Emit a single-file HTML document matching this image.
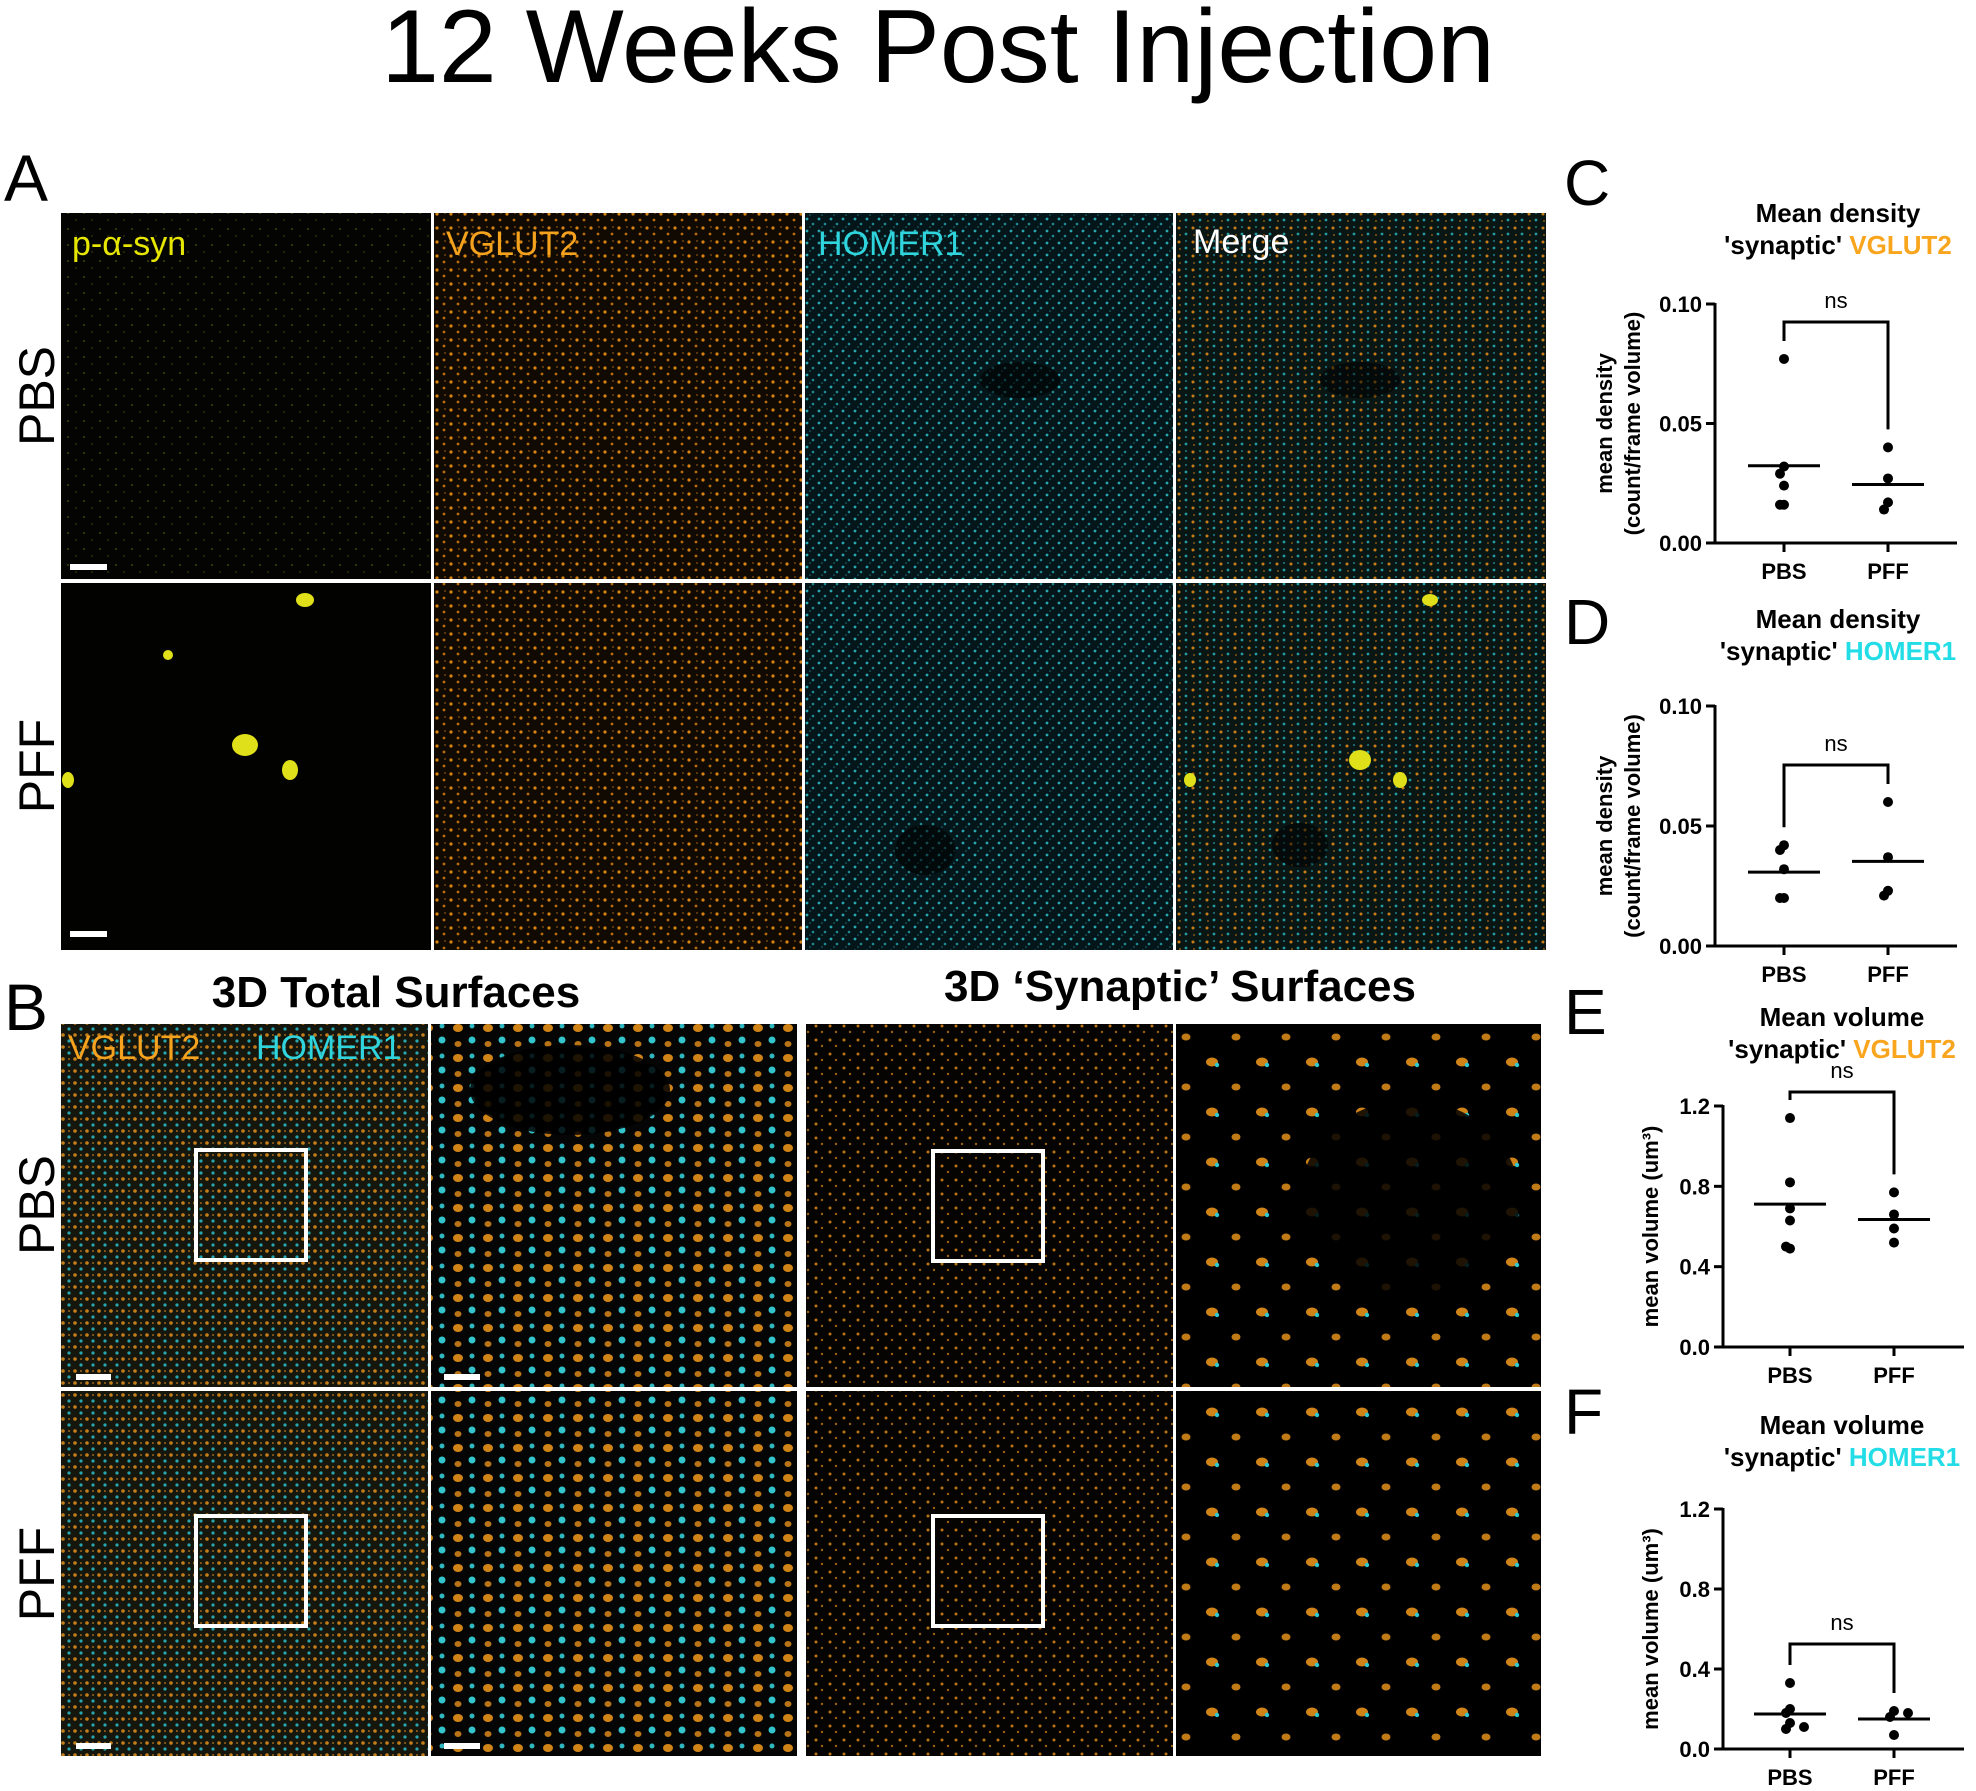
<!DOCTYPE html>
<html><head><meta charset="utf-8">
<style>
html,body{margin:0;padding:0;background:#fff;}
svg{display:block;font-family:"Liberation Sans",Arial,sans-serif;}
</style></head>
<body>
<svg id="fig" width="1976" height="1791" viewBox="0 0 1976 1791" xmlns="http://www.w3.org/2000/svg">
<defs>
  <pattern id="pOr" width="14" height="14" patternUnits="userSpaceOnUse"><rect width="14" height="14" fill="#100a02"/><circle cx="3" cy="4" r="1.6" fill="#d88412"/><circle cx="10" cy="10" r="1.4" fill="#b86e0e"/><circle cx="11" cy="3" r="0.9" fill="#8a540c"/></pattern>
  <pattern id="pCy" width="12" height="12" patternUnits="userSpaceOnUse"><rect width="12" height="12" fill="#05161a"/><circle cx="3" cy="3" r="1.4" fill="#2aa8b0"/><circle cx="9" cy="8" r="1.3" fill="#208a92"/><circle cx="6" cy="11" r="0.8" fill="#1a7078"/></pattern>
  <pattern id="pMg" width="14" height="14" patternUnits="userSpaceOnUse"><rect width="14" height="14" fill="#0a1614"/><circle cx="3" cy="4" r="1.5" fill="#c87e16"/><circle cx="10" cy="10" r="1.4" fill="#249aa2"/><circle cx="10" cy="3" r="1" fill="#1c7e86"/><circle cx="4" cy="11" r="0.9" fill="#a86812"/></pattern>
  <pattern id="pYe" width="16" height="16" patternUnits="userSpaceOnUse"><rect width="16" height="16" fill="#040402"/><circle cx="4" cy="5" r="0.8" fill="#6a6a0c"/><circle cx="12" cy="12" r="0.7" fill="#50500a"/></pattern>
  <pattern id="pTot" width="12" height="12" patternUnits="userSpaceOnUse"><rect width="12" height="12" fill="#15170f"/><circle cx="3" cy="3" r="1.8" fill="#c47e1a"/><circle cx="9" cy="9" r="1.6" fill="#28a6ae"/><circle cx="9" cy="3" r="1" fill="#9c6416"/></pattern>
  <pattern id="pZoom" width="30" height="30" patternUnits="userSpaceOnUse"><rect width="30" height="30" fill="#050505"/><ellipse cx="8" cy="8" rx="5" ry="4" fill="#d08418"/><circle cx="22" cy="20" r="3.5" fill="#34c4cc"/><circle cx="22" cy="6" r="2.5" fill="#30b8c0"/><ellipse cx="8" cy="24" rx="3.5" ry="3" fill="#b87416"/></pattern>
  <pattern id="pSyn" width="14" height="14" patternUnits="userSpaceOnUse"><rect width="14" height="14" fill="#060402"/><circle cx="4" cy="4" r="1.5" fill="#b87416"/><circle cx="10" cy="10" r="1.2" fill="#9a6212"/></pattern>
  <pattern id="pSynZ" width="50" height="50" patternUnits="userSpaceOnUse"><rect width="50" height="50" fill="#000"/><ellipse cx="12" cy="12" rx="6" ry="4.5" fill="#d08418"/><circle cx="17" cy="15" r="2.2" fill="#30c8d0"/><ellipse cx="36" cy="37" rx="4.5" ry="3.5" fill="#c07a16"/></pattern>
</defs>

<text x="938" y="82" font-size="104" text-anchor="middle">12 Weeks Post Injection</text>

<!-- Panel A -->
<text x="4" y="201" font-size="66">A</text>
<g>
  <rect x="61" y="213" width="370" height="366" fill="url(#pYe)"/>
  <rect x="434" y="213" width="368" height="366" fill="url(#pOr)"/>
  <rect x="805" y="213" width="368" height="366" fill="url(#pCy)"/>
  <rect x="1176" y="213" width="370" height="366" fill="url(#pMg)"/>
  <rect x="61" y="583" width="370" height="367" fill="#020200"/>
  <g fill="#e0e01a">
    <ellipse cx="245" cy="745" rx="13" ry="11"/><ellipse cx="290" cy="770" rx="8" ry="10"/><ellipse cx="305" cy="600" rx="9" ry="7"/><ellipse cx="168" cy="655" rx="5" ry="5"/><ellipse cx="68" cy="780" rx="6" ry="8"/>
  </g>
  <rect x="434" y="583" width="368" height="367" fill="url(#pOr)"/>
  <rect x="805" y="583" width="368" height="367" fill="url(#pCy)"/>
  <rect x="1176" y="583" width="370" height="367" fill="url(#pMg)"/>
  <g fill="#e0e01a"><ellipse cx="1360" cy="760" rx="11" ry="10"/><ellipse cx="1400" cy="780" rx="7" ry="8"/><ellipse cx="1190" cy="780" rx="6" ry="7"/><ellipse cx="1430" cy="600" rx="8" ry="6"/></g>
  <g fill="#000" opacity="0.55"><ellipse cx="1020" cy="380" rx="40" ry="18"/><ellipse cx="1360" cy="380" rx="40" ry="18"/><ellipse cx="925" cy="850" rx="30" ry="25"/><ellipse cx="1300" cy="845" rx="28" ry="22"/></g>
  <rect x="70" y="564" width="37" height="6" fill="#fff"/>
  <rect x="70" y="931" width="37" height="6" fill="#fff"/>
</g>
<text x="72" y="255" font-size="34" fill="#e6e600">p-α-syn</text>
<text x="446" y="255" font-size="34" fill="#f5a21e">VGLUT2</text>
<text x="818" y="255" font-size="34" fill="#2fd4dc">HOMER1</text>
<text x="1193" y="253" font-size="34" fill="#fff">Merge</text>
<text transform="translate(54,396) rotate(-90)" font-size="50" text-anchor="middle">PBS</text>
<text transform="translate(54,766) rotate(-90)" font-size="50" text-anchor="middle">PFF</text>

<!-- Panel B -->
<text x="4" y="1030" font-size="66">B</text>
<text x="396" y="1007" font-size="44" font-weight="bold" text-anchor="middle">3D Total Surfaces</text>
<text x="1180" y="1001" font-size="44" font-weight="bold" text-anchor="middle">3D ‘Synaptic’ Surfaces</text>
<g>
  <rect x="61" y="1024" width="367" height="363" fill="url(#pTot)"/>
  <rect x="431" y="1024" width="366" height="363" fill="url(#pZoom)"/>
  <rect x="806" y="1024" width="367" height="363" fill="url(#pSyn)"/>
  <rect x="1176" y="1024" width="365" height="363" fill="url(#pSynZ)"/>
  <rect x="61" y="1391" width="367" height="365" fill="url(#pTot)"/>
  <rect x="431" y="1391" width="366" height="365" fill="url(#pZoom)"/>
  <rect x="806" y="1391" width="367" height="365" fill="url(#pSyn)"/>
  <rect x="1176" y="1391" width="365" height="365" fill="url(#pSynZ)"/>
  <g fill="#000" opacity="0.85"><ellipse cx="570" cy="1090" rx="100" ry="45"/><ellipse cx="1410" cy="1200" rx="110" ry="100"/></g>
  <g fill="none" stroke="#fff" stroke-width="4">
    <rect x="196" y="1150" width="110" height="110"/>
    <rect x="933" y="1151" width="110" height="110"/>
    <rect x="196" y="1516" width="110" height="110"/>
    <rect x="933" y="1516" width="110" height="110"/>
  </g>
  <g fill="#fff"><rect x="76" y="1374" width="35" height="6"/><rect x="444" y="1374" width="36" height="6"/><rect x="76" y="1743" width="35" height="6"/><rect x="444" y="1743" width="36" height="6"/></g>
</g>
<text x="68" y="1059" font-size="34" fill="#f5a21e">VGLUT2</text>
<text x="256" y="1059" font-size="34" fill="#2fd4dc">HOMER1</text>
<text transform="translate(54,1205) rotate(-90)" font-size="50" text-anchor="middle">PBS</text>
<text transform="translate(54,1574) rotate(-90)" font-size="50" text-anchor="middle">PFF</text>

<text x="1564" y="205" font-size="64">C</text>
<text x="1564" y="644" font-size="64">D</text>
<text x="1564" y="1034" font-size="64">E</text>
<text x="1564" y="1434" font-size="64">F</text>
<g id="charts"></g>
</svg>
<script>
const groups = ["PBS", "PFF"];
const cPbs = [0.077, 0.032, 0.029, 0.024, 0.016, 0.016];
const cPff = [0.040, 0.027, 0.017, 0.014];
const dPbs = [0.042, 0.040, 0.032, 0.020, 0.020];
const dPff = [0.060, 0.037, 0.023, 0.021];
const ePbs = [1.14, 0.82, 0.69, 0.63, 0.49, 0.50];
const ePff = [0.77, 0.66, 0.59, 0.52];
const fPbs = [0.33, 0.20, 0.18, 0.13, 0.10, 0.11];
const fPff = [0.19, 0.16, 0.18, 0.07];
const densityTicks = [0, 0.05, 0.10];
const densityTickLabels = ["0.00", "0.05", "0.10"];
const volumeTicks = [0, 0.4, 0.8, 1.2];
const volumeTickLabels = ["0.0", "0.4", "0.8", "1.2"];

const NS = "http://www.w3.org/2000/svg";
const root = document.getElementById("charts");
function mk(tag, attrs, parent, text) {
  const e = document.createElementNS(NS, tag);
  for (const k in attrs) e.setAttribute(k, attrs[k]);
  if (text !== undefined) e.textContent = text;
  parent.appendChild(e);
  return e;
}
function mean(a) { return a.reduce((s, v) => s + v, 0) / a.length; }

function chart(cfg) {
  const g = mk("g", {}, root);
  
  
  const yS = v => cfg.y0 - (v / cfg.max) * (cfg.y0 - cfg.y1);
  const xS = i => cfg.xs[i];
  const t1 = mk("text", {x: cfg.tx, y: cfg.ty, "font-size": 26, "font-weight": "bold", "text-anchor": "middle"}, g, cfg.title1);
  
  
  const t2 = mk("text", {x: cfg.tx, y: cfg.ty + 32, "font-size": 26, "font-weight": "bold", "text-anchor": "middle"}, g);
  
  
  mk("tspan", {}, t2, "'synaptic' ");
  mk("tspan", {fill: cfg.color}, t2, cfg.marker);
  const ax = mk("path", {d: `M${cfg.ax},${yS(cfg.max) - 1}V${cfg.y0}H${cfg.xEnd}`, stroke: "#000", "stroke-width": 3, fill: "none"}, g);
  
  
  cfg.ticks.forEach((v, i) => {
    mk("line", {x1: cfg.ax - 9, x2: cfg.ax, y1: yS(v), y2: yS(v), stroke: "#000", "stroke-width": 3}, g);
    const tl = mk("text", {x: cfg.ax - 13, y: yS(v) + 8, "font-size": 22, "font-weight": "bold", "text-anchor": "end"}, g, cfg.tickLabels[i]);
    
    
  });
  groups.forEach((gname, i) => {
    mk("line", {x1: xS(i), x2: xS(i), y1: cfg.y0, y2: cfg.y0 + 9, stroke: "#000", "stroke-width": 3}, g);
    const xl = mk("text", {x: xS(i), y: cfg.y0 + 36, "font-size": 22, "font-weight": "bold", "text-anchor": "middle"}, g, gname);
    
    
  });
  cfg.ylab.forEach((s, j) => {
    const yl = mk("text", {transform: `translate(${cfg.ylx + j * 28},${(cfg.y0 + yS(cfg.max)) / 2}) rotate(-90)`, "font-size": 22, "font-weight": "bold", "text-anchor": "middle"}, g, s);
    
    
  });
  [cfg.a, cfg.b].forEach((arr, i) => {
    const m = mean(arr);
    const ml = mk("line", {x1: xS(i) - 36, x2: xS(i) + 36, y1: yS(m), y2: yS(m), stroke: "#000", "stroke-width": 3}, g);
    
    
    arr.forEach((v, k) => {
      const near = arr.filter((w, q) => q < k && Math.abs(yS(w) - yS(v)) < 9).length;
      const off = near === 0 ? 0 : (near % 2 ? -1 : 1) * 9 * Math.ceil(near / 2) + 5;
      const c = mk("circle", {cx: xS(i) + off, cy: yS(v), r: 5, fill: "#000"}, g);
      
      
    });
  });
  const by = cfg.bracketY;
  const lb = yS(Math.max(...cfg.a)) - 18, rb = yS(Math.max(...cfg.b)) - 18;
  const br = mk("path", {d: `M${xS(0)},${lb}V${by}H${xS(1)}V${rb}`, stroke: "#000", "stroke-width": 3, fill: "none"}, g);
  
  
  const ns = mk("text", {x: (xS(0) + xS(1)) / 2, y: by - 14, "font-size": 22, "text-anchor": "middle"}, g, "ns");
  
  
}

chart({name: "chart-c", a: cPbs, b: cPff, max: 0.10, ticks: densityTicks, tickLabels: densityTickLabels,
  y0: 543, y1: 304, ax: 1715, xEnd: 1957, xs: [1784, 1888], tx: 1838, ty: 222, title1: "Mean density",
  marker: "VGLUT2", color: "#f9a51e", ylab: ["mean density", "(count/frame volume)"], ylx: 1612, bracketY: 322});
chart({name: "chart-d", a: dPbs, b: dPff, max: 0.10, ticks: densityTicks, tickLabels: densityTickLabels,
  y0: 946, y1: 706, ax: 1715, xEnd: 1957, xs: [1784, 1888], tx: 1838, ty: 628, title1: "Mean density",
  marker: "HOMER1", color: "#22dde6", ylab: ["mean density", "(count/frame volume)"], ylx: 1612, bracketY: 765});
chart({name: "chart-e", a: ePbs, b: ePff, max: 1.2, ticks: volumeTicks, tickLabels: volumeTickLabels,
  y0: 1347, y1: 1106, ax: 1723, xEnd: 1964, xs: [1790, 1894], tx: 1842, ty: 1026, title1: "Mean volume",
  marker: "VGLUT2", color: "#f9a51e", ylab: ["mean volume (um³)"], ylx: 1658, bracketY: 1092});
chart({name: "chart-f", a: fPbs, b: fPff, max: 1.2, ticks: volumeTicks, tickLabels: volumeTickLabels,
  y0: 1749, y1: 1509, ax: 1723, xEnd: 1964, xs: [1790, 1894], tx: 1842, ty: 1434, title1: "Mean volume",
  marker: "HOMER1", color: "#22dde6", ylab: ["mean volume (um³)"], ylx: 1658, bracketY: 1644});
</script>
</body></html>
